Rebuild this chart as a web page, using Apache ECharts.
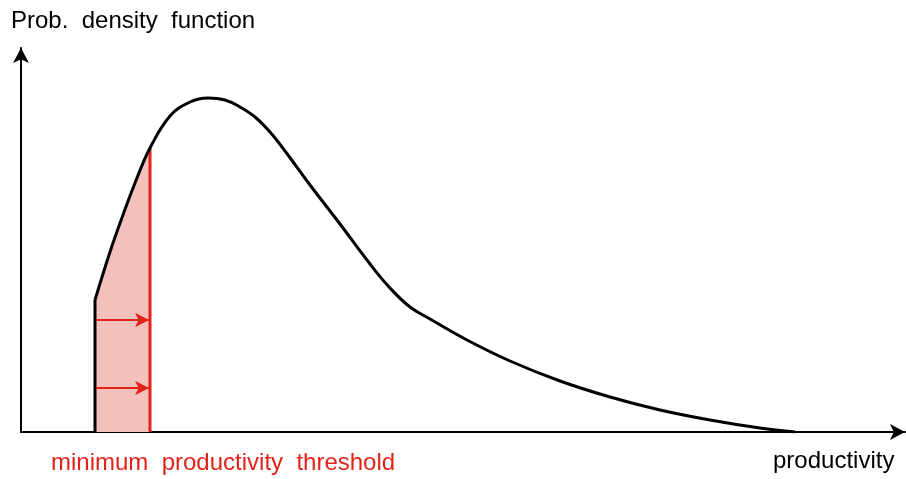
<!DOCTYPE html>
<html>
<head>
<meta charset="utf-8">
<script src="https://cdn.jsdelivr.net/npm/echarts@6/dist/echarts.min.js"></script>
<style>html,body{margin:0;padding:0;background:#fff;}#c{width:906px;height:479px;}</style>
</head>
<body>
<div id="c"></div>
<script>
// productivity (x) and probability density (y)
var productivity = [74, 89, 102, 114, 129, 149, 169, 187, 204, 219, 234, 249, 264, 289, 319, 349, 369, 389, 409, 446, 489, 539, 589, 639, 689, 739, 774];
var density      = [132, 180, 217, 249, 284, 316, 330, 334, 332, 325, 315, 300, 281, 247, 208, 168, 144, 125, 113, 92, 71, 51, 35, 22, 12, 4, 0];
var threshold = 129;      // minimum productivity threshold
var arrowLevels = [112, 44];
var xLabel = 'productivity';
var yLabel = 'Prob.  density  function';
var thresholdLabel = 'minimum  productivity  threshold';

var curve = productivity.map(function (x, i) { return [x, density[i]]; });
var shaded = curve.filter(function (p) { return p[0] <= threshold; });
var thrY = shaded[shaded.length - 1][1];
var red = '#E2231A';
var font = '24px "Liberation Sans", Arial, sans-serif';

var chart = echarts.init(document.getElementById('c'), null, {renderer: 'canvas'});
chart.setOption({
  animation: false,
  grid: {left: 21, right: 1, top: 48, bottom: 47},
  xAxis: {
    type: 'value', min: 0, max: 884,
    axisLine: {show: true, symbol: ['none', 'arrow'], symbolSize: [12, 15], lineStyle: {color: '#000', width: 2}},
    axisTick: {show: false}, axisLabel: {show: false}, splitLine: {show: false}
  },
  yAxis: {
    type: 'value', min: 0, max: 384,
    axisLine: {show: true, symbol: ['none', 'arrow'], symbolSize: [12, 15], lineStyle: {color: '#000', width: 2}},
    axisTick: {show: false}, axisLabel: {show: false}, splitLine: {show: false}
  },
  series: [
    {
      type: 'line', data: shaded, smooth: 0.4, symbol: 'none',
      lineStyle: {width: 0, opacity: 0}, areaStyle: {color: '#F4C0BB', opacity: 1}, z: 1
    },
    {
      type: 'line', data: [[threshold, 0], [threshold, thrY]], symbol: 'none',
      lineStyle: {color: red, width: 3}, z: 3
    },
    {
      type: 'line', data: [[productivity[0], 0], [productivity[0], density[0]]], symbol: 'none',
      lineStyle: {color: '#000', width: 3}, z: 4
    },
    {
      type: 'line', data: curve, smooth: 0.4, symbol: 'none',
      lineStyle: {color: '#000', width: 3}, z: 4,
      markLine: {
        silent: true, symbol: ['none', 'arrow'], symbolSize: [11, 14],
        label: {show: false},
        lineStyle: {color: red, width: 2, type: 'solid'},
        data: arrowLevels.map(function (y) {
          return [{coord: [productivity[0] + 1, y]}, {coord: [threshold - 1, y]}];
        })
      }
    }
  ],
  graphic: [
    {type: 'text', x: 11, y: 21, style: {text: yLabel, font: font, fill: '#000', verticalAlign: 'middle'}},
    {type: 'text', x: 773, y: 461, style: {text: xLabel, font: font, fill: '#000', verticalAlign: 'middle'}},
    {type: 'text', x: 51, y: 463, style: {text: thresholdLabel, font: font, fill: red, verticalAlign: 'middle'}}
  ]
});
</script>
</body>
</html>
